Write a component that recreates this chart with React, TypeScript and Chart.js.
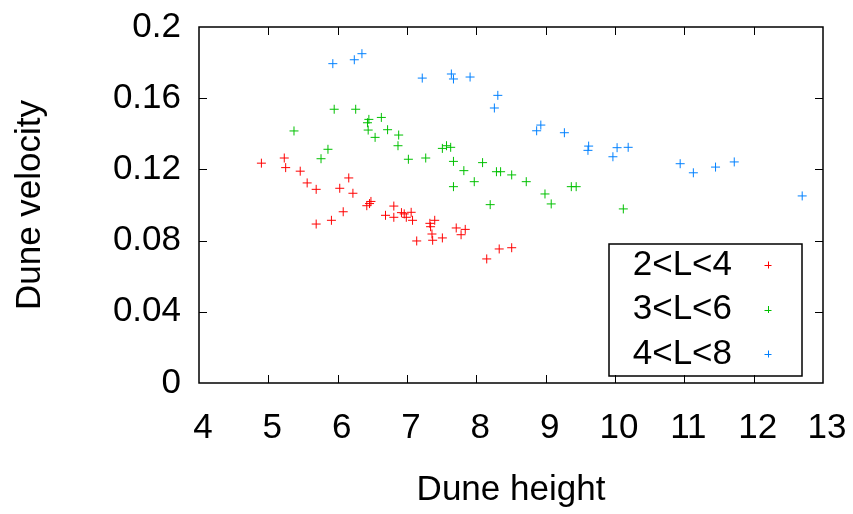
import React, { useEffect, useRef } from "react";
import { Chart, registerables } from "chart.js";

Chart.register(...registerables);

const seriesLabels = ["2<L<4", "3<L<6", "4<L<8"];
const seriesColors = ["#ff0000", "#00c000", "#0080ff"];

const heightsL2to4 = [4.9, 5.23, 5.25, 5.46, 5.56, 5.69, 6.03, 6.16, 6.22, 5.69, 5.91, 6.08, 6.42, 6.46, 6.48, 6.81, 6.69, 6.81, 6.92, 6.96, 6.99, 7.06, 7.08, 7.14, 7.33, 7.4, 7.34, 7.36, 7.37, 7.51, 7.71, 7.84, 7.78, 8.15, 8.33, 8.51];
const velocitiesL2to4 = [0.1235, 0.1264, 0.121, 0.119, 0.1124, 0.1088, 0.1094, 0.1152, 0.1066, 0.0893, 0.0914, 0.0962, 0.0996, 0.1008, 0.102, 0.0994, 0.0942, 0.0931, 0.0957, 0.095, 0.0931, 0.0959, 0.0914, 0.0798, 0.0897, 0.0914, 0.0878, 0.0837, 0.0802, 0.0815, 0.0871, 0.0863, 0.0833, 0.0697, 0.0753, 0.076];

const heightsL3to6 = [5.95, 6.26, 6.45, 6.43, 6.63, 5.37, 6.44, 6.72, 6.54, 6.88, 6.87, 5.86, 5.76, 7.02, 7.27, 7.51, 7.57, 7.63, 7.67, 7.82, 7.97, 7.67, 8.09, 8.29, 8.35, 8.51, 8.72, 8.99, 9.37, 9.44, 8.2, 9.08, 10.12];
const velocitiesL3to6 = [0.1538, 0.1538, 0.1481, 0.1462, 0.1492, 0.1416, 0.1421, 0.1423, 0.138, 0.1393, 0.1333, 0.1313, 0.126, 0.1257, 0.1264, 0.1318, 0.1333, 0.1324, 0.1245, 0.1193, 0.1131, 0.1103, 0.1238, 0.1187, 0.1187, 0.1169, 0.1131, 0.1062, 0.1103, 0.1103, 0.1002, 0.1006, 0.0978];

const heightsL4to8 = [5.93, 6.24, 6.35, 7.22, 7.64, 7.67, 7.91, 8.31, 8.26, 8.93, 8.87, 9.27, 9.62, 9.61, 10.03, 10.19, 9.97, 10.94, 11.13, 11.45, 11.72, 12.7];
const velocitiesL4to8 = [0.1794, 0.1816, 0.185, 0.1713, 0.1736, 0.1708, 0.1719, 0.1616, 0.1545, 0.1449, 0.1417, 0.1406, 0.1331, 0.1307, 0.1322, 0.1324, 0.1271, 0.1232, 0.1181, 0.1213, 0.1242, 0.1051];

const xTickValues = [4, 5, 6, 7, 8, 9, 10, 11, 12, 13];
const yTickLabels = ["0", "0.04", "0.08", "0.12", "0.16", "0.2"];

const FONT = "'Liberation Sans', Arial, Helvetica, sans-serif";
const FONT_SIZE = 35;

function toPoints(xs: number[], ys: number[]) {
  return xs.map((x, i) => ({ x, y: ys[i] }));
}

const framePlugin = {
  id: "frameTicks",
  afterDatasetsDraw(chart: any) {
    const { ctx, chartArea } = chart;
    const { left, right, top, bottom } = chartArea;
    const xs = chart.scales.x;
    const ys = chart.scales.y;
    const tl = 8;
    ctx.save();
    ctx.strokeStyle = "#000";
    ctx.lineWidth = 1.5;
    ctx.strokeRect(left, top, right - left, bottom - top);
    ctx.lineWidth = 1;
    ctx.beginPath();
    xTickValues.slice(1, -1).forEach((v) => {
      const px = Math.round(xs.getPixelForValue(v)) + 0.5;
      ctx.moveTo(px, bottom);
      ctx.lineTo(px, bottom - tl);
      ctx.moveTo(px, top);
      ctx.lineTo(px, top + tl);
    });
    yTickLabels.slice(1, -1).forEach((l) => {
      const py = Math.round(ys.getPixelForValue(parseFloat(l))) + 0.5;
      ctx.moveTo(left, py);
      ctx.lineTo(left + tl, py);
      ctx.moveTo(right, py);
      ctx.lineTo(right - tl, py);
    });
    ctx.stroke();

    // legend box
    const bx0 = right - 214;
    const bx1 = right - 21;
    const by1 = bottom - 7;
    const by0 = by1 - 132;
    ctx.lineWidth = 1.5;
    ctx.strokeRect(bx0, by0, bx1 - bx0, by1 - by0);
    ctx.font = `${FONT_SIZE}px ${FONT}`;
    ctx.fillStyle = "#000";
    ctx.textAlign = "right";
    ctx.textBaseline = "middle";
    const rowH = 44.5;
    seriesLabels.forEach((lab, i) => {
      const cy = by0 + 21 + i * rowH;
      ctx.fillText(lab, bx0 + 123, cy);
      const mx = bx0 + 159;
      ctx.strokeStyle = seriesColors[i];
      ctx.lineWidth = 1;
      ctx.beginPath();
      ctx.moveTo(mx - 3.5, Math.round(cy) + 0.5);
      ctx.lineTo(mx + 3.5, Math.round(cy) + 0.5);
      ctx.moveTo(Math.round(mx) + 0.5, cy - 3.5);
      ctx.lineTo(Math.round(mx) + 0.5, cy + 3.5);
      ctx.stroke();
    });
    ctx.restore();
  },
};

export default function App() {
  const ref = useRef<HTMLCanvasElement | null>(null);
  useEffect(() => {
    if (!ref.current) return;
    const mk = (i: number, xs: number[], ys: number[]) => ({
      label: seriesLabels[i],
      data: toPoints(xs, ys),
      pointStyle: "cross",
      pointRadius: 4.5,
      pointHoverRadius: 4.5,
      borderColor: seriesColors[i],
      backgroundColor: seriesColors[i],
      pointBorderWidth: 1,
      borderWidth: 1,
    });
    const chart = new Chart(ref.current, {
      type: "scatter",
      data: {
        datasets: [
          mk(0, heightsL2to4, velocitiesL2to4),
          mk(1, heightsL3to6, velocitiesL3to6),
          mk(2, heightsL4to8, velocitiesL4to8),
        ],
      },
      options: {
        animation: false,
        responsive: false,
        devicePixelRatio: 1,
        layout: { padding: { top: 27, right: 30, left: 0, bottom: 0 } },
        plugins: { legend: { display: false }, tooltip: { enabled: false } },
        scales: {
          x: {
            type: "linear",
            min: 4,
            max: 13,
            afterBuildTicks: (scale: any) => {
              scale.ticks = xTickValues.map((v) => ({ value: v }));
            },
            afterFit: (scale: any) => {
              scale.height = 131;
              scale.paddingLeft = 0;
              scale.paddingRight = 0;
              scale.paddingTop = 0;
              scale.paddingBottom = 0;
            },
            grid: { display: false, drawTicks: false },
            border: { display: false },
            ticks: {
              color: "#000",
              font: { family: FONT, size: FONT_SIZE },
              padding: 24,
              labelOffset: 4,
              maxRotation: 0,
              autoSkip: false,
            },
            title: {
              display: true,
              text: "Dune height",
              color: "#000",
              font: { family: FONT, size: FONT_SIZE, lineHeight: 1.2 },
              padding: { top: 3, bottom: 3 },
            },
          },
          y: {
            type: "linear",
            min: 0,
            max: 0.2,
            afterBuildTicks: (scale: any) => {
              scale.ticks = yTickLabels.map((l) => ({ value: parseFloat(l) }));
            },
            afterFit: (scale: any) => {
              scale.width = 199;
              scale.paddingLeft = 0;
              scale.paddingRight = 0;
              scale.paddingTop = 0;
              scale.paddingBottom = 0;
            },
            grid: { display: false, drawTicks: false },
            border: { display: false },
            ticks: {
              color: "#000",
              font: { family: FONT, size: FONT_SIZE },
              padding: 18,
              autoSkip: false,
              callback: (_v: any, i: number) => yTickLabels[i],
            },
            title: {
              display: true,
              text: "Dune velocity",
              color: "#000",
              font: { family: FONT, size: FONT_SIZE, lineHeight: 1.2 },
              padding: { top: 9, bottom: 9 },
            },
          },
        },
      },
      plugins: [framePlugin],
    } as any);
    return () => chart.destroy();
  }, []);
  return (
    <div style={{ position: "absolute", left: 0, top: 0, width: 853, height: 514 }}>
      <canvas ref={ref} width={853} height={514} style={{ width: 853, height: 514 }} />
    </div>
  );
}
